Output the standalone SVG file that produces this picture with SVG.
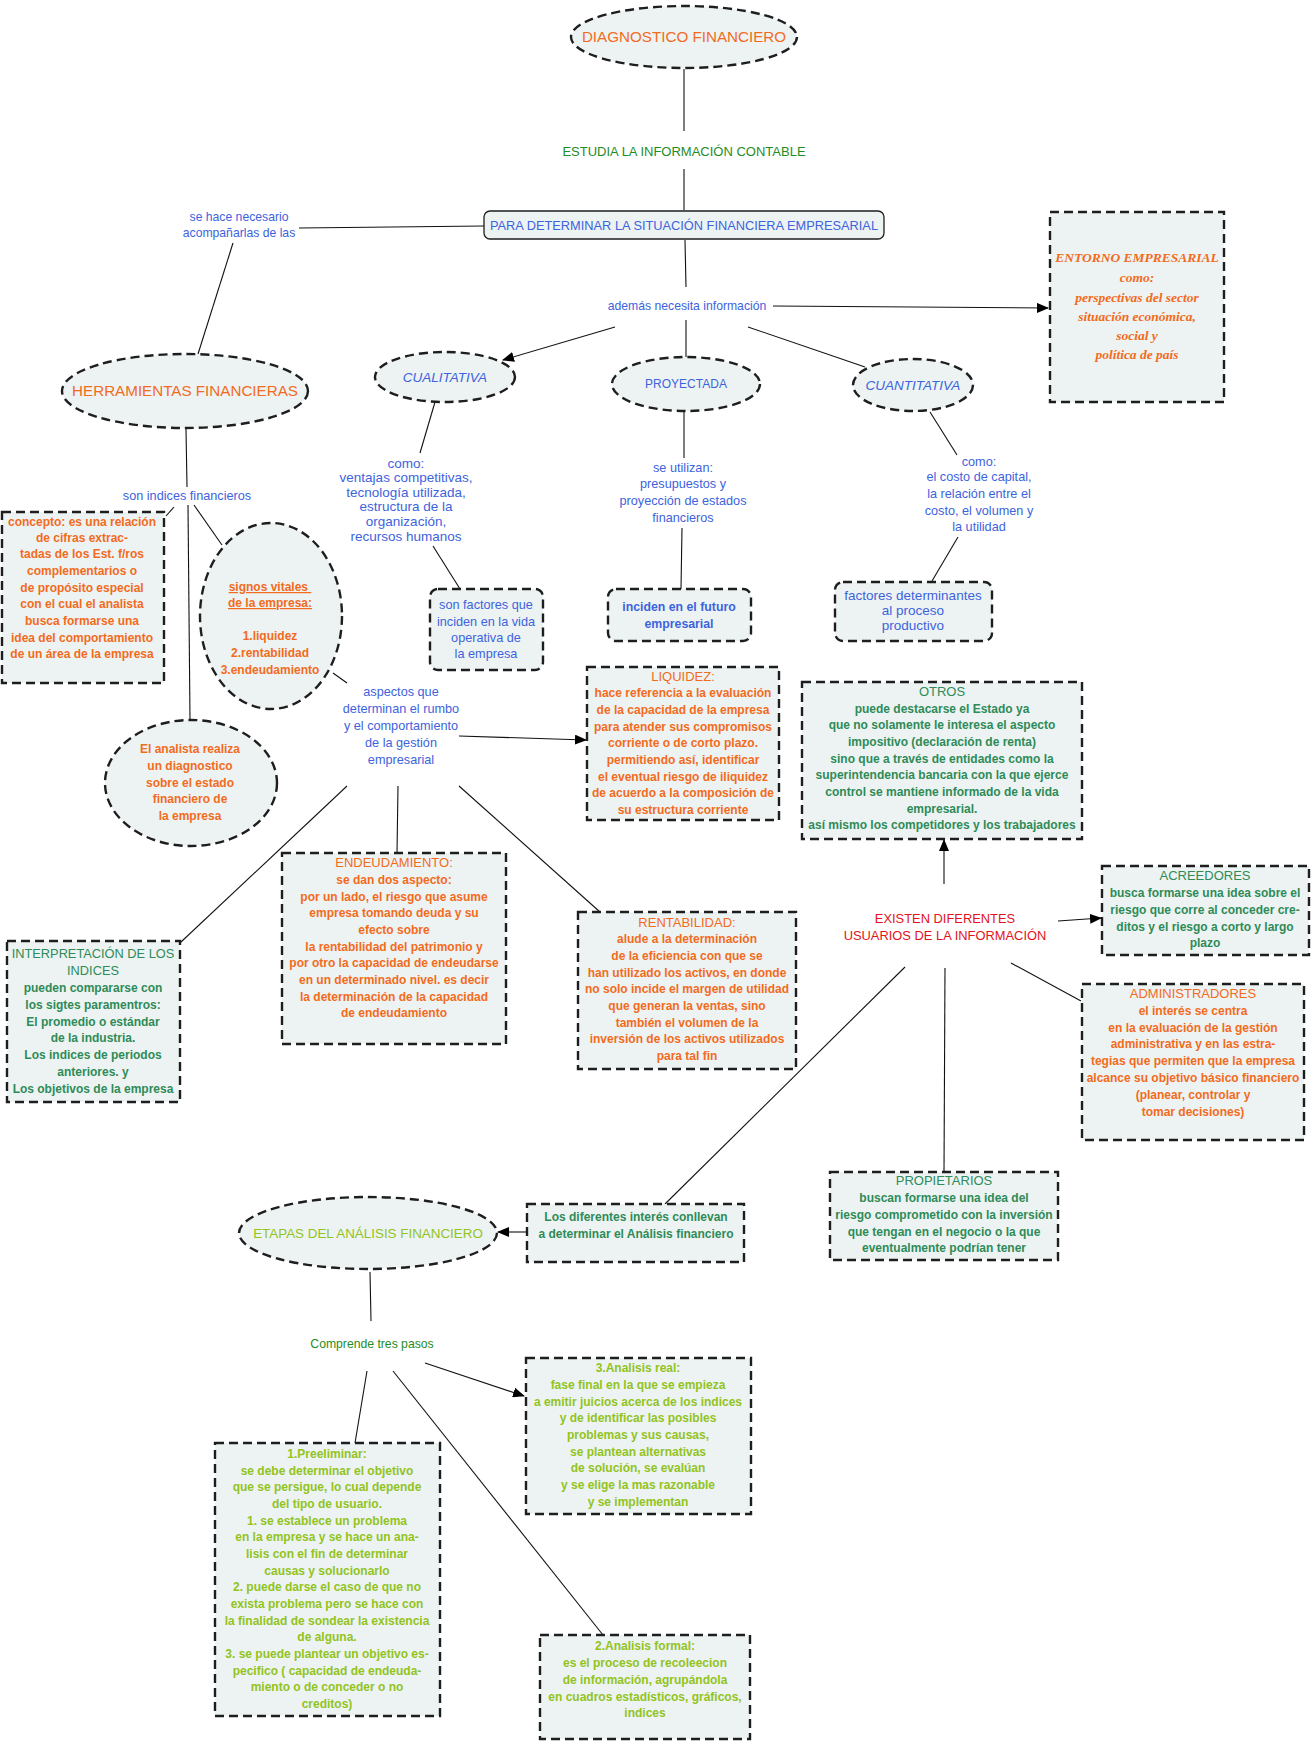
<svg xmlns="http://www.w3.org/2000/svg" width="1312" height="1744" viewBox="0 0 1312 1744">
<defs>
<marker id="arr" markerWidth="12" markerHeight="10" refX="11" refY="5" orient="auto" markerUnits="userSpaceOnUse"><path d="M0,0 L12,5 L0,10 Z" fill="#000"/></marker>
<style>
.bx{fill:#edf3f3;stroke:#1e1e1e;stroke-width:2.4;stroke-dasharray:9 5}
.sl{fill:#edf3f3;stroke:#1e1e1e;stroke-width:1.3}
.c{stroke:#111;stroke-width:1.1;fill:none}
text{font-family:"Liberation Sans",Arial,sans-serif;text-anchor:middle}
.r{font-size:13.5px}
.b{font-size:12px;font-weight:bold}
.h{font-size:12.7px}
.hs{font-size:12.2px}
.ti{font-size:13px;font-weight:normal}
.cap{font-size:12.9px}
.big{font-size:15.2px}
.or{fill:#f26b1d}
.bl{fill:#3d63dd}
.gr{fill:#2e8b57}
.dg{fill:#1f8c1f}
.rd{fill:#e3121b}
.yg{fill:#92c31e}
.scr{font-family:"Liberation Serif","Times New Roman",serif;font-style:italic;font-weight:bold;font-size:13.5px}
</style>
</defs>

<g id="connectors">
<line class="c" x1="684" y1="69" x2="684" y2="131"/>
<line class="c" x1="684" y1="169" x2="684" y2="210"/>
<line class="c" x1="484" y1="226" x2="299" y2="228"/>
<line class="c" x1="233" y1="243" x2="198" y2="354"/>
<line class="c" x1="685" y1="240" x2="686" y2="287"/>
<line class="c" x1="773" y1="306" x2="1048" y2="308" marker-end="url(#arr)"/>
<line class="c" x1="615" y1="327" x2="503" y2="360" marker-end="url(#arr)"/>
<line class="c" x1="686" y1="320" x2="686" y2="357"/>
<line class="c" x1="748" y1="327" x2="865" y2="367"/>
<line class="c" x1="435" y1="402" x2="420" y2="453"/>
<line class="c" x1="433" y1="546" x2="460" y2="589"/>
<line class="c" x1="684" y1="412" x2="684" y2="458"/>
<line class="c" x1="682" y1="528" x2="681" y2="589"/>
<line class="c" x1="930" y1="412" x2="957" y2="455"/>
<line class="c" x1="958" y1="537" x2="932" y2="581"/>
<line class="c" x1="186" y1="429" x2="187" y2="487"/>
<line class="c" x1="174" y1="507" x2="166" y2="516"/>
<line class="c" x1="194" y1="505" x2="222" y2="545"/>
<line class="c" x1="188" y1="505" x2="190" y2="720"/>
<line class="c" x1="333" y1="673" x2="347" y2="683"/>
<line class="c" x1="459" y1="736" x2="586" y2="740" marker-end="url(#arr)"/>
<line class="c" x1="347" y1="786" x2="181" y2="942"/>
<line class="c" x1="398" y1="786" x2="397" y2="853"/>
<line class="c" x1="459" y1="786" x2="600" y2="912"/>
<line class="c" x1="944" y1="884" x2="944" y2="840" marker-end="url(#arr)"/>
<line class="c" x1="1058" y1="921" x2="1101" y2="918" marker-end="url(#arr)"/>
<line class="c" x1="1011" y1="963" x2="1081" y2="1001"/>
<line class="c" x1="945" y1="968" x2="944" y2="1172"/>
<line class="c" x1="905" y1="967" x2="665" y2="1204"/>
<line class="c" x1="527" y1="1232" x2="498" y2="1232" marker-end="url(#arr)"/>
<line class="c" x1="370" y1="1272" x2="371" y2="1321"/>
<line class="c" x1="367" y1="1371" x2="355" y2="1443"/>
<line class="c" x1="425" y1="1363" x2="524" y2="1396" marker-end="url(#arr)"/>
<line class="c" x1="393" y1="1371" x2="603" y2="1635"/>
</g>

<g id="diagnostico">
<ellipse class="bx" cx="684" cy="37" rx="113" ry="31"/>
<text class="big or" x="684" y="42">DIAGNOSTICO FINANCIERO</text>
</g>
<g id="estudia"><text class="dg" style="font-size:13px" x="684" y="156">ESTUDIA LA INFORMACIÓN CONTABLE</text></g>
<g id="para">
<rect class="sl" x="484" y="211" width="400" height="28" rx="6"/>
<text class="bl" style="font-size:12.8px" x="684" y="230">PARA DETERMINAR LA SITUACIÓN FINANCIERA EMPRESARIAL</text>
</g>
<g id="sehace"><text class="hs bl"><tspan x="239" y="221">se hace necesario</tspan><tspan x="239" y="237">acompañarlas de las</tspan></text></g>
<g id="ademas"><text class="hs bl" x="687" y="310">además necesita información</text></g>
<g id="entorno">
<rect class="bx" x="1050" y="212" width="174" height="190"/>
<text class="scr or"><tspan x="1137" y="262">ENTORNO EMPRESARIAL</tspan><tspan x="1137" y="282">como:</tspan><tspan x="1137" y="302">perspectivas del sector</tspan><tspan x="1137" y="321">situación económica,</tspan><tspan x="1137" y="340">social y</tspan><tspan x="1137" y="359">política de país</tspan></text>
</g>

<g id="cualitativa">
<ellipse class="bx" cx="445" cy="377" rx="70" ry="25"/>
<text class="bl" style="font-size:13.5px" x="445" y="382" font-style="italic">CUALITATIVA</text>
</g>
<g id="proyectada">
<ellipse class="bx" cx="686" cy="384" rx="74" ry="27"/>
<text class="bl" style="font-size:12px" x="686" y="388">PROYECTADA</text>
</g>
<g id="cuantitativa">
<ellipse class="bx" cx="913" cy="385" rx="60" ry="26"/>
<text class="bl" style="font-size:13.5px" x="913" y="390" font-style="italic">CUANTITATIVA</text>
</g>

<g id="como1"><text class="r bl"><tspan x="406" y="468">como:</tspan><tspan x="406" y="482">ventajas competitivas,</tspan><tspan x="406" y="497">tecnología utilizada,</tspan><tspan x="406" y="511">estructura de la</tspan><tspan x="406" y="526">organización,</tspan><tspan x="406" y="541">recursos humanos</tspan></text></g>
<g id="sonfactores">
<rect class="bx" x="430" y="589" width="113" height="81" rx="8"/>
<text class="h bl"><tspan x="486" y="609">son factores que</tspan><tspan x="486" y="626">inciden en la vida</tspan><tspan x="486" y="642">operativa de</tspan><tspan x="486" y="658">la empresa</tspan></text>
</g>
<g id="seutilizan"><text class="h bl"><tspan x="683" y="472">se utilizan:</tspan><tspan x="683" y="488">presupuestos y</tspan><tspan x="683" y="505">proyección de estados</tspan><tspan x="683" y="522">financieros</tspan></text></g>
<g id="inciden">
<rect class="bx" x="608" y="589" width="143" height="52" rx="8"/>
<text class="b bl" style="font-size:12.3px"><tspan x="679" y="611">inciden en el futuro</tspan><tspan x="679" y="628">empresarial</tspan></text>
</g>
<g id="como2"><text class="h bl"><tspan x="979" y="466">como:</tspan><tspan x="979" y="481">el costo de capital,</tspan><tspan x="979" y="498">la relación entre el</tspan><tspan x="979" y="515">costo, el volumen y</tspan><tspan x="979" y="531">la utilidad</tspan></text></g>
<g id="factoresdet">
<rect class="bx" x="835" y="582" width="157" height="59" rx="8"/>
<text class="r bl"><tspan x="913" y="600">factores determinantes</tspan><tspan x="913" y="615">al proceso</tspan><tspan x="913" y="630">productivo</tspan></text>
</g>

<g id="herramientas">
<ellipse class="bx" cx="185" cy="391" rx="123" ry="37"/>
<text class="big or" x="185" y="396">HERRAMIENTAS FINANCIERAS</text>
</g>
<g id="sonindices"><text class="h bl" x="187" y="500">son indices financieros</text></g>
<g id="concepto">
<rect class="bx" x="2" y="512" width="162" height="171"/>
<text class="b or"><tspan x="82" y="526">concepto: es una relación</tspan><tspan x="82" y="542">de cifras extrac-</tspan><tspan x="82" y="558">tadas de los Est. f/ros</tspan><tspan x="82" y="575">complementarios o</tspan><tspan x="82" y="592">de propósito especial</tspan><tspan x="82" y="608">con el cual el analista</tspan><tspan x="82" y="625">busca formarse una</tspan><tspan x="82" y="642">idea del comportamiento</tspan><tspan x="82" y="658">de un área de la empresa</tspan></text>
</g>
<g id="signos">
<ellipse class="bx" cx="271" cy="616" rx="71" ry="93"/>
<text class="b or"><tspan x="270" y="591" text-decoration="underline">signos vitales </tspan><tspan x="270" y="607" text-decoration="underline">de la empresa:</tspan><tspan x="270" y="640">1.liquidez</tspan><tspan x="270" y="657">2.rentabilidad</tspan><tspan x="270" y="674">3.endeudamiento</tspan></text>
</g>
<g id="analista">
<ellipse class="bx" cx="191" cy="783" rx="86" ry="63"/>
<text class="b or"><tspan x="190" y="753">El analista realiza</tspan><tspan x="190" y="770">un diagnostico</tspan><tspan x="190" y="787">sobre el estado</tspan><tspan x="190" y="803">financiero de</tspan><tspan x="190" y="820">la empresa</tspan></text>
</g>
<g id="aspectos"><text class="h bl"><tspan x="401" y="696">aspectos que</tspan><tspan x="401" y="713">determinan el rumbo</tspan><tspan x="401" y="730">y el comportamiento</tspan><tspan x="401" y="747">de la gestión</tspan><tspan x="401" y="764">empresarial</tspan></text></g>

<g id="liquidez">
<rect class="bx" x="587" y="667" width="192" height="153"/>
<text class="b or"><tspan x="683" y="681" class="ti">LIQUIDEZ:</tspan><tspan x="683" y="697">hace referencia a la evaluación</tspan><tspan x="683" y="714">de la capacidad de la empresa</tspan><tspan x="683" y="731">para atender sus compromisos</tspan><tspan x="683" y="747">corriente o de corto plazo.</tspan><tspan x="683" y="764">permitiendo así, identificar</tspan><tspan x="683" y="781">el eventual riesgo de iliquidez</tspan><tspan x="683" y="797">de acuerdo a la composición de</tspan><tspan x="683" y="814">su estructura corriente</tspan></text>
</g>
<g id="otros">
<rect class="bx" x="802" y="682" width="280" height="157"/>
<text class="b gr"><tspan x="942" y="696" class="ti">OTROS</tspan><tspan x="942" y="713">puede destacarse el Estado ya</tspan><tspan x="942" y="729">que no solamente le interesa el aspecto</tspan><tspan x="942" y="746">impositivo (declaración de renta)</tspan><tspan x="942" y="763">sino que a través de entidades como la</tspan><tspan x="942" y="779">superintendencia bancaria con la que ejerce</tspan><tspan x="942" y="796">control se mantiene informado de la vida</tspan><tspan x="942" y="813">empresarial.</tspan><tspan x="942" y="829">así mismo los competidores y los trabajadores</tspan></text>
</g>
<g id="endeudamiento">
<rect class="bx" x="282" y="853" width="224" height="191"/>
<text class="b or"><tspan x="394" y="867" class="ti">ENDEUDAMIENTO:</tspan><tspan x="394" y="884">se dan dos aspecto:</tspan><tspan x="394" y="901">por un lado, el riesgo que asume</tspan><tspan x="394" y="917">empresa tomando deuda y su</tspan><tspan x="394" y="934">efecto sobre</tspan><tspan x="394" y="951">la rentabilidad del patrimonio y</tspan><tspan x="394" y="967">por otro la capacidad de endeudarse</tspan><tspan x="394" y="984">en un determinado nivel. es decir</tspan><tspan x="394" y="1001">la determinación de la capacidad</tspan><tspan x="394" y="1017">de endeudamiento</tspan></text>
</g>
<g id="rentabilidad">
<rect class="bx" x="578" y="912" width="218" height="157"/>
<text class="b or"><tspan x="687" y="927" class="ti">RENTABILIDAD:</tspan><tspan x="687" y="943">alude a la determinación</tspan><tspan x="687" y="960">de la eficiencia con que se</tspan><tspan x="687" y="977">han utilizado los activos, en donde</tspan><tspan x="687" y="993">no solo incide el margen de utilidad</tspan><tspan x="687" y="1010">que generan la ventas, sino</tspan><tspan x="687" y="1027">también el volumen de la</tspan><tspan x="687" y="1043">inversión de los activos utilizados</tspan><tspan x="687" y="1060">para tal fin</tspan></text>
</g>
<g id="interpretacion">
<rect class="bx" x="7" y="941" width="173" height="161"/>
<text class="b gr"><tspan x="93" y="958" class="ti" style="font-size:12.8px">INTERPRETACIÓN DE LOS</tspan><tspan x="93" y="975" class="ti" style="font-size:12.8px">INDICES</tspan><tspan x="93" y="992">pueden compararse con</tspan><tspan x="93" y="1009">los sigtes paramentros:</tspan><tspan x="93" y="1026">El promedio o estándar</tspan><tspan x="93" y="1042">de la industria.</tspan><tspan x="93" y="1059">Los indices de periodos</tspan><tspan x="93" y="1076">anteriores. y</tspan><tspan x="93" y="1093">Los objetivos de la empresa</tspan></text>
</g>

<g id="existen"><text class="cap rd"><tspan x="945" y="923">EXISTEN DIFERENTES</tspan><tspan x="945" y="940">USUARIOS DE LA INFORMACIÓN</tspan></text></g>
<g id="acreedores">
<rect class="bx" x="1102" y="866" width="207" height="89"/>
<text class="b gr"><tspan x="1205" y="880" class="ti">ACREEDORES</tspan><tspan x="1205" y="897">busca formarse una idea sobre el</tspan><tspan x="1205" y="914">riesgo que corre al conceder cre-</tspan><tspan x="1205" y="931">ditos y el riesgo a corto y largo</tspan><tspan x="1205" y="947">plazo</tspan></text>
</g>
<g id="administradores">
<rect class="bx" x="1082" y="984" width="222" height="156"/>
<text class="b or"><tspan x="1193" y="998" class="ti">ADMINISTRADORES</tspan><tspan x="1193" y="1015">el interés se centra</tspan><tspan x="1193" y="1032">en la evaluación de la gestión</tspan><tspan x="1193" y="1048">administrativa y en las estra-</tspan><tspan x="1193" y="1065">tegias que permiten que la empresa</tspan><tspan x="1193" y="1082">alcance su objetivo básico financiero</tspan><tspan x="1193" y="1099">(planear, controlar y</tspan><tspan x="1193" y="1116">tomar decisiones)</tspan></text>
</g>
<g id="propietarios">
<rect class="bx" x="830" y="1172" width="228" height="88"/>
<text class="b gr"><tspan x="944" y="1185" class="ti">PROPIETARIOS</tspan><tspan x="944" y="1202">buscan formarse una idea del</tspan><tspan x="944" y="1219">riesgo comprometido con la inversión</tspan><tspan x="944" y="1236">que tengan en el negocio o la que</tspan><tspan x="944" y="1252">eventualmente podrían tener</tspan></text>
</g>
<g id="losdiferentes">
<rect class="bx" x="527" y="1204" width="217" height="58"/>
<text class="b gr"><tspan x="636" y="1221">Los diferentes interés conllevan</tspan><tspan x="636" y="1238">a determinar el Análisis financiero</tspan></text>
</g>
<g id="etapas">
<ellipse class="bx" cx="368" cy="1233" rx="129" ry="36"/>
<text class="yg" style="font-size:13.4px" x="368" y="1238">ETAPAS DEL ANÁLISIS FINANCIERO</text>
</g>
<g id="comprende"><text class="dg" style="font-size:12.2px" x="372" y="1348">Comprende tres pasos</text></g>
<g id="real">
<rect class="bx" x="526" y="1358" width="225" height="156"/>
<text class="b yg"><tspan x="638" y="1372">3.Analisis real:</tspan><tspan x="638" y="1389">fase final en la que se empieza</tspan><tspan x="638" y="1406">a emitir juicios acerca de los indices</tspan><tspan x="638" y="1422">y de identificar las posibles</tspan><tspan x="638" y="1439">problemas y sus causas,</tspan><tspan x="638" y="1456">se plantean alternativas</tspan><tspan x="638" y="1472">de solución, se evalúan</tspan><tspan x="638" y="1489">y se elige la mas razonable</tspan><tspan x="638" y="1506">y se implementan</tspan></text>
</g>
<g id="preeliminar">
<rect class="bx" x="215" y="1443" width="225" height="273"/>
<text class="b yg"><tspan x="327" y="1458">1.Preeliminar:</tspan><tspan x="327" y="1475">se debe determinar el objetivo</tspan><tspan x="327" y="1491">que se persigue, lo cual depende</tspan><tspan x="327" y="1508">del tipo de usuario.</tspan><tspan x="327" y="1525">1. se establece un problema</tspan><tspan x="327" y="1541">en la empresa y se hace un ana-</tspan><tspan x="327" y="1558">lisis con el fin de determinar</tspan><tspan x="327" y="1575">causas y solucionarlo</tspan><tspan x="327" y="1591">2. puede darse el caso de que no</tspan><tspan x="327" y="1608">exista problema pero se hace con</tspan><tspan x="327" y="1625">la finalidad de sondear la existencia</tspan><tspan x="327" y="1641">de alguna.</tspan><tspan x="327" y="1658">3. se puede plantear un objetivo es-</tspan><tspan x="327" y="1675">pecifico ( capacidad de endeuda-</tspan><tspan x="327" y="1691">miento o de conceder o no</tspan><tspan x="327" y="1708">creditos)</tspan></text>
</g>
<g id="formal">
<rect class="bx" x="540" y="1635" width="210" height="104"/>
<text class="b yg"><tspan x="645" y="1650">2.Analisis formal:</tspan><tspan x="645" y="1667">es el proceso de recoleecion</tspan><tspan x="645" y="1684">de información, agrupándola</tspan><tspan x="645" y="1701">en cuadros estadísticos, gráficos,</tspan><tspan x="645" y="1717">indices</tspan></text>
</g>
</svg>
